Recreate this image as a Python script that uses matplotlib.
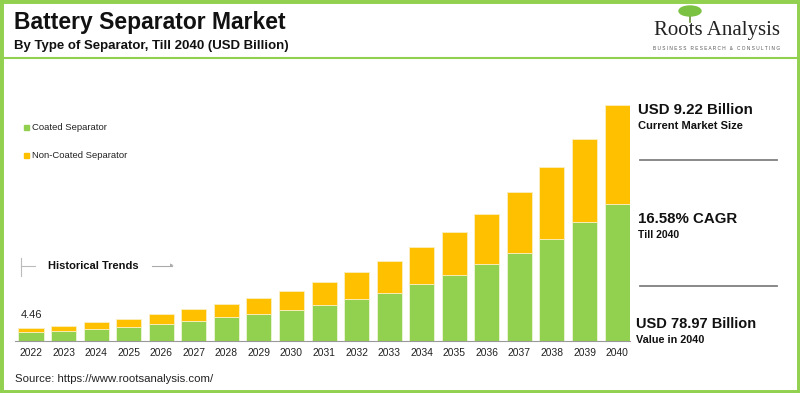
import numpy as np
import matplotlib.pyplot as plt
from matplotlib.patches import Rectangle, Ellipse

plt.rcParams['font.family'] = ['Liberation Sans', 'DejaVu Sans']

years = [str(y) for y in range(2022, 2041)]
coated = [2.95, 3.25, 4.02, 4.69, 5.70, 6.70, 7.94, 9.05, 10.49, 12.16,
          13.97, 16.18, 19.0, 22.0, 25.7, 29.4, 34.1, 39.8, 45.8]
non_coated = [1.51, 1.88, 2.35, 2.78, 3.35, 3.92, 4.35, 5.46, 6.36, 7.54,
              9.03, 10.72, 12.5, 14.6, 16.9, 20.4, 24.1, 27.9, 33.17]
first_label = "4.46"

green = '#92D050'
yellow = '#FFC000'

W, H = 800, 393
fig = plt.figure(figsize=(8, 3.93), dpi=100)

def fx(px):
    return px / W

def fy(py):
    return 1 - py / H

# frame
fig.patches.append(Rectangle((0, 0), 1, 1, transform=fig.transFigure, fill=False,
                             edgecolor=green, linewidth=5, zorder=0))
fig.add_artist(plt.Line2D([0, 1], [fy(58), fy(58)], transform=fig.transFigure,
                          color=green, linewidth=1.5))

# titles
fig.text(fx(14), fy(23), "Battery Separator Market", fontsize=16.5, fontweight='bold',
         va='center', ha='left', color='#111111')
fig.text(fx(14), fy(46), "By Type of Separator, Till 2040 (USD Billion)", fontsize=9.5,
         fontweight='bold', va='center', ha='left', color='#111111')

# logo
fig.text(fx(717), fy(31), "Roots Analysis", fontsize=15, family='Liberation Serif',
         ha='center', va='center', color='#222222')
fig.text(fx(717), fy(48), " ".join("BUSINESS RESEARCH & CONSULTING"), fontsize=3.4,
         ha='center', va='center', color='#555555')
fig.add_artist(Ellipse((fx(690), fy(11)), 22 / W, 10 / H, transform=fig.transFigure,
                       color='#7cc242', zorder=3))
fig.add_artist(plt.Line2D([fx(690), fx(690)], [fy(14), fy(22)], transform=fig.transFigure,
                          color='#6a8f3a', linewidth=1.2))

# bars
ax = fig.add_axes([fx(15), fy(341), fx(630) - fx(15), (341 - 95) / H])
x = np.arange(len(years))
ax.bar(x, coated, width=0.77, color=green, edgecolor='#eef5d8', linewidth=0.6)
ax.bar(x, non_coated, width=0.77, bottom=coated, color=yellow, edgecolor='#fbeec0',
       linewidth=0.6)
ax.set_xlim((15 - 31) / 32.56, (630 - 31) / 32.56)
ax.set_ylim(0, 246 * 0.335)
ax.set_xticks(x)
ax.set_xticklabels(years, fontsize=7.4, color='#222222')
ax.tick_params(axis='x', length=0, pad=5)
ax.set_yticks([])
for s in ['top', 'right', 'left']:
    ax.spines[s].set_visible(False)
ax.spines['bottom'].set_color('#999999')
ax.text(x[0], coated[0] + non_coated[0] + 2.5, first_label, fontsize=8,
        ha='center', va='bottom', color='#222222')

# legend
fig.patches.append(Rectangle((fx(24), fy(130)), 5 / W, 5 / H, transform=fig.transFigure,
                             color=green))
fig.text(fx(32), fy(127.5), "Coated Separator", fontsize=6.8, va='center', color='#222222')
fig.patches.append(Rectangle((fx(24), fy(158)), 5 / W, 5 / H, transform=fig.transFigure,
                             color=yellow))
fig.text(fx(32), fy(155.5), "Non-Coated Separator", fontsize=6.8, va='center', color='#222222')

# historical trends
fig.add_artist(plt.Line2D([fx(21), fx(21)], [fy(258), fy(276)], transform=fig.transFigure,
                          color='#bbbbbb', linewidth=0.8))
fig.add_artist(plt.Line2D([fx(21), fx(35)], [fy(266), fy(266)], transform=fig.transFigure,
                          color='#bbbbbb', linewidth=0.8))
fig.text(fx(48), fy(266), "Historical Trends", fontsize=8, fontweight='bold',
         va='center', color='#111111')
fig.add_artist(plt.Line2D([fx(152), fx(172)], [fy(266), fy(266)], transform=fig.transFigure,
                          color='#aaaaaa', linewidth=0.8))
fig.text(fx(170), fy(266), "\u25b8", fontsize=5, va='center', ha='left', color='#aaaaaa')

# right panel
fig.text(fx(638), fy(110), "USD 9.22 Billion", fontsize=10.8, fontweight='bold',
         va='center', color='#111111')
fig.text(fx(638), fy(126), "Current Market Size", fontsize=8, fontweight='bold',
         va='center', color='#111111')
fig.add_artist(plt.Line2D([fx(640), fx(777)], [fy(160), fy(160)], transform=fig.transFigure,
                          color='#808080', linewidth=1.3))
fig.text(fx(638), fy(219), "16.58% CAGR", fontsize=10.8, fontweight='bold',
         va='center', color='#111111')
fig.text(fx(638), fy(235), "Till 2040", fontsize=7.5, fontweight='bold',
         va='center', color='#111111')
fig.add_artist(plt.Line2D([fx(640), fx(777)], [fy(286), fy(286)], transform=fig.transFigure,
                          color='#808080', linewidth=1.3))
fig.text(fx(636), fy(324), "USD 78.97 Billion", fontsize=10.5, fontweight='bold',
         va='center', color='#111111')
fig.text(fx(636), fy(340), "Value in 2040", fontsize=7.8, fontweight='bold',
         va='center', color='#111111')

# source
fig.text(fx(15), fy(379), "Source: https://www.rootsanalysis.com/", fontsize=8.2,
         va='center', color='#222222')

fig.savefig('out.png', dpi=100)
